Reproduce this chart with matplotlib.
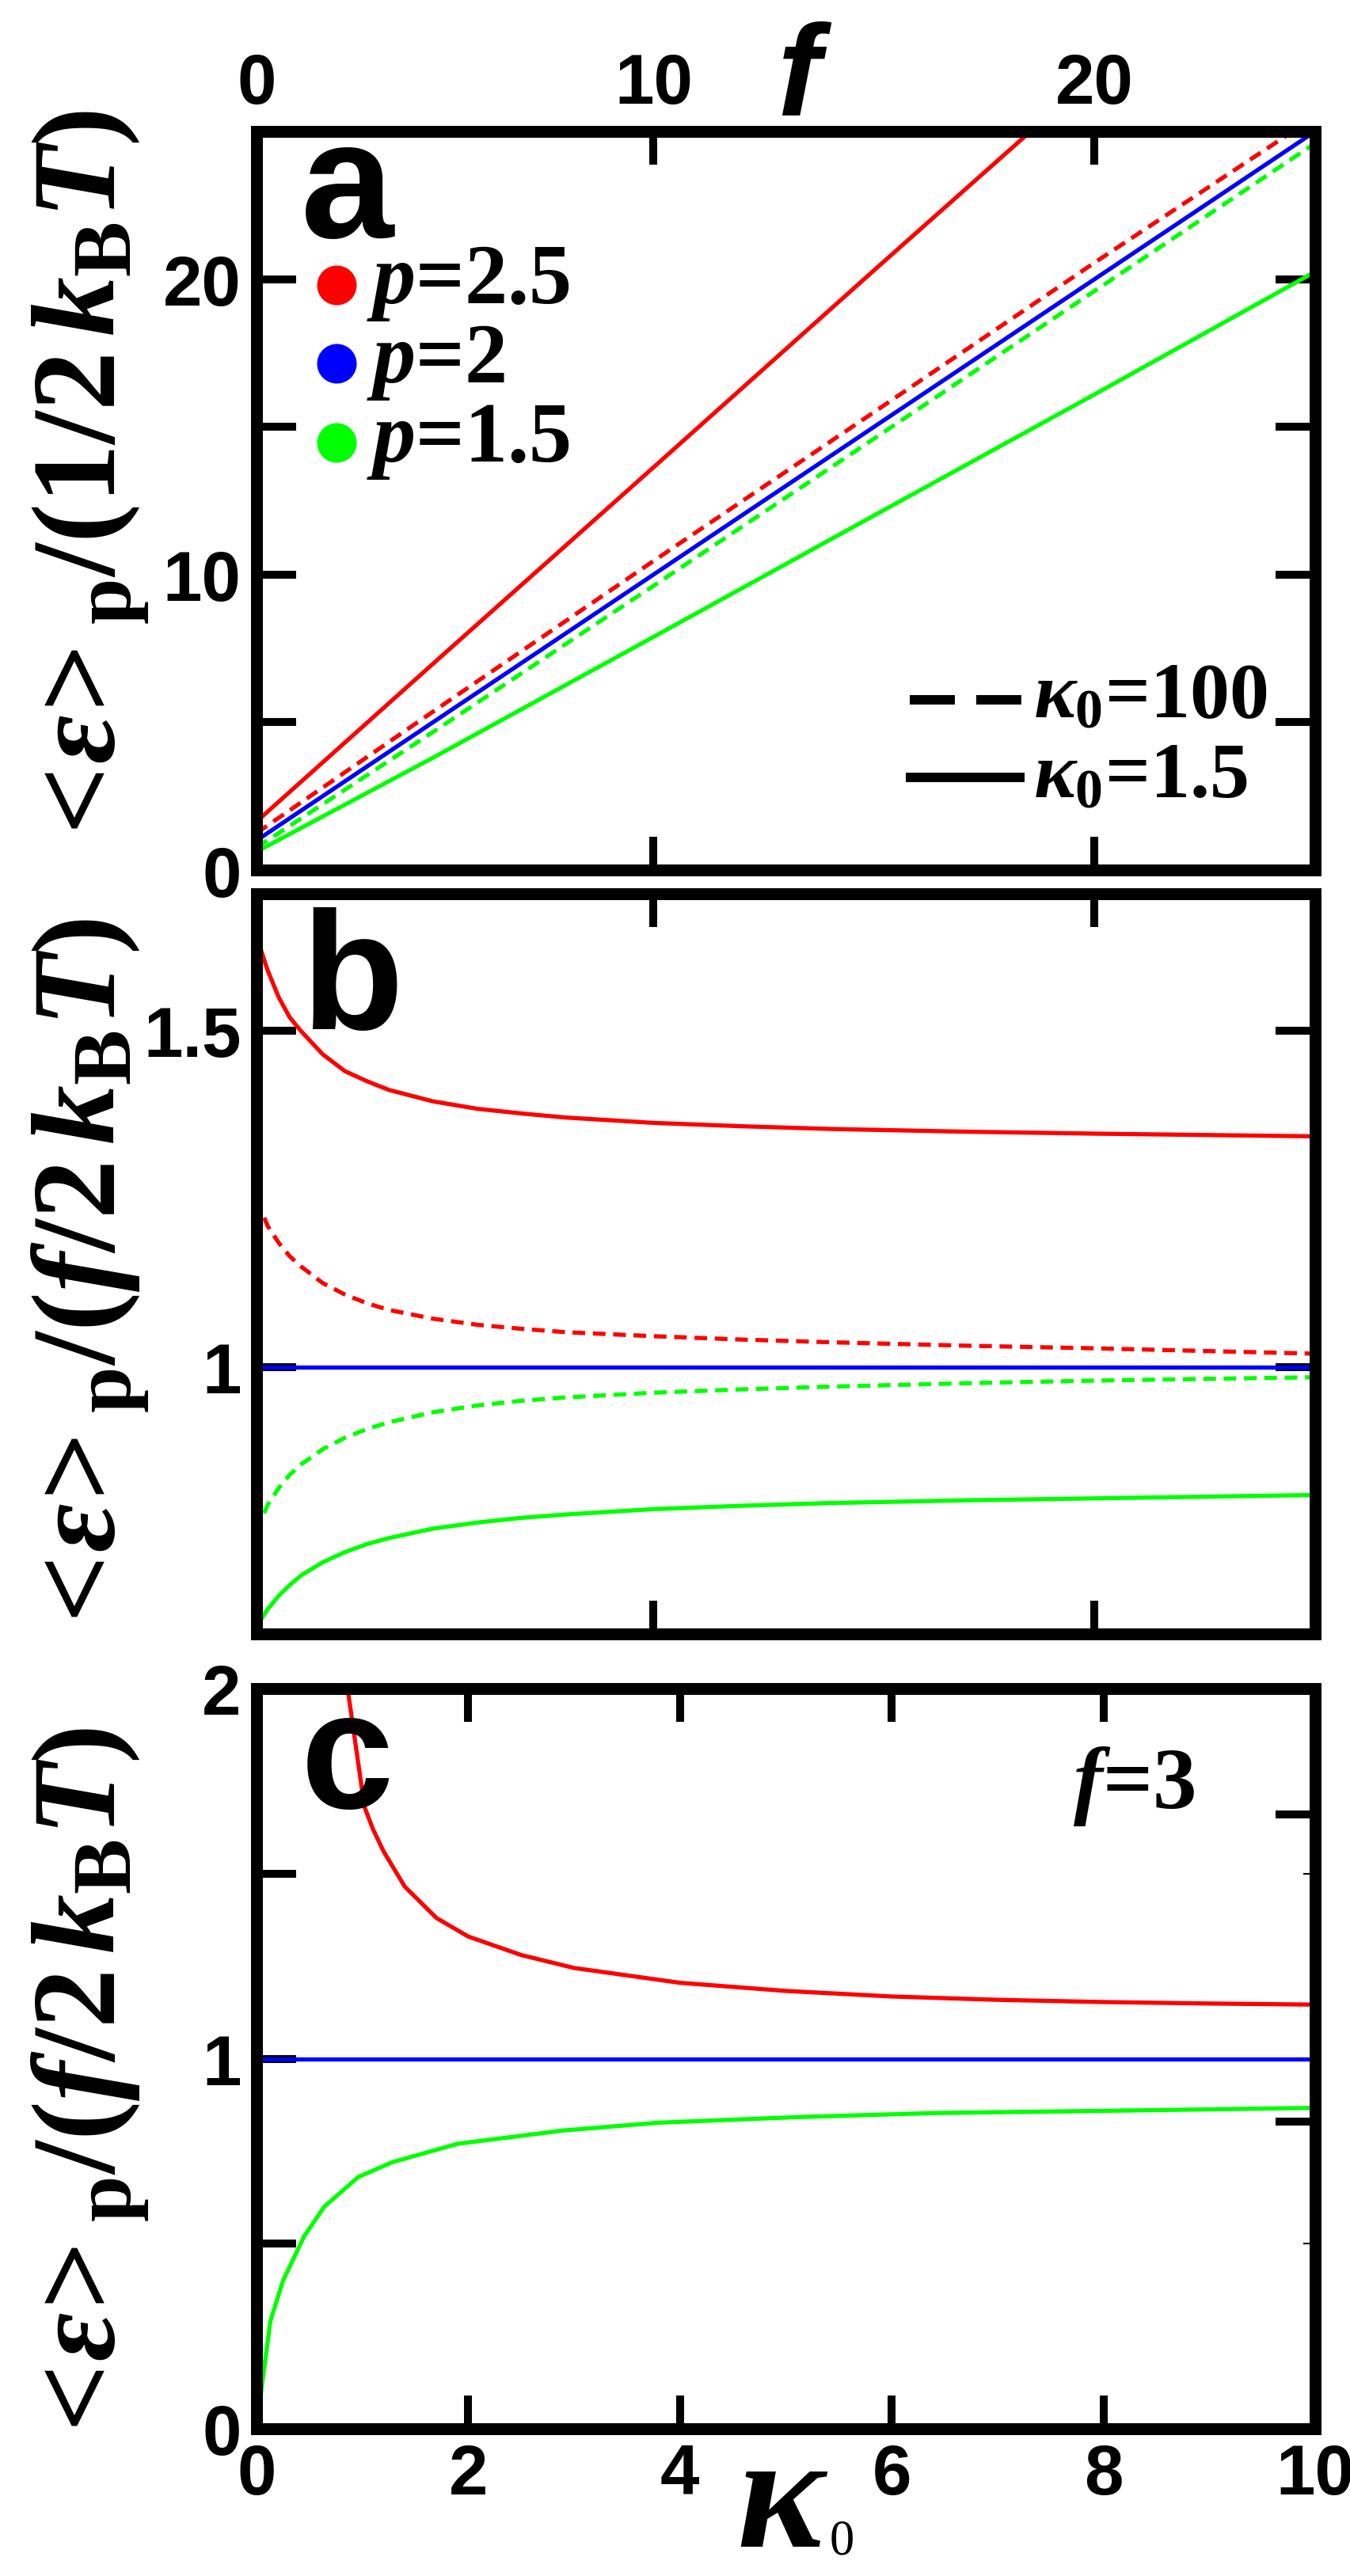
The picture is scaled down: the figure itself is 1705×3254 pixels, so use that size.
import matplotlib
matplotlib.use('Agg')
import matplotlib.pyplot as plt
from matplotlib.lines import Line2D

# ---------------- data ----------------
# panel a : <eps>_p/(1/2 kBT) versus f
a_f = [1, 5, 10, 15, 20, 25]
a_f_red_solid = [1, 5, 10, 15, 19]
a_red_solid = [1.64, 6.98, 13.63, 20.3, 25.6]
a_red_dash = [1.25, 5.36, 10.46, 15.5, 20.56, 25.5]
a_blue = [1, 5, 10, 15, 20, 25]
a_green_dash = [0.76, 4.67, 9.62, 14.6, 19.6, 24.6]
a_green_solid = [0.62, 3.8, 7.89, 12.0, 16.1, 20.25]

# panel b : <eps>_p/(f/2 kBT) versus f
b_f = [1, 1.25, 1.5, 1.75, 2, 2.5, 3, 3.5, 4, 5, 6, 7, 8, 10, 12, 14, 17, 20, 25]
b_red_solid = [1.64, 1.59, 1.55, 1.52, 1.50, 1.465, 1.44, 1.425, 1.412, 1.395, 1.384,
               1.377, 1.371, 1.363, 1.358, 1.354, 1.35, 1.347, 1.343]
b_red_dash = [1.25, 1.21, 1.185, 1.165, 1.15, 1.125, 1.108, 1.095, 1.085, 1.072, 1.063,
              1.057, 1.052, 1.046, 1.041, 1.037, 1.032, 1.028, 1.02]
b_green_dash = [0.755, 0.795, 0.82, 0.84, 0.855, 0.878, 0.895, 0.908, 0.918, 0.933, 0.943,
                0.95, 0.955, 0.962, 0.967, 0.971, 0.976, 0.98, 0.985]
b_green_solid = [0.615, 0.64, 0.66, 0.676, 0.69, 0.71, 0.725, 0.737, 0.746, 0.76, 0.769,
                 0.776, 0.781, 0.789, 0.794, 0.798, 0.802, 0.805, 0.81]
b_blue_f = [1, 25]
b_blue = [1, 1]

# panel c : f = 3, versus kappa0
c_k_red = [0.86, 0.95, 1.02, 1.1, 1.2, 1.4, 1.7, 2.0, 2.5, 3, 4, 5, 6, 7, 8, 9, 10]
c_red = [2.0, 1.82, 1.68, 1.62, 1.56, 1.465, 1.38, 1.33, 1.28, 1.245, 1.205, 1.183,
         1.168, 1.159, 1.153, 1.149, 1.146]
c_k_green = [0, 0.03, 0.13, 0.25, 0.45, 0.64, 0.96, 1.28, 1.9, 2.9, 3.8, 5.1, 6.4, 8, 10]
c_green = [0, 0.07, 0.29, 0.40, 0.52, 0.60, 0.68, 0.72, 0.77, 0.806, 0.827, 0.842,
           0.853, 0.859, 0.867]
c_k_blue = [0, 10]
c_blue = [1, 1]

a_yticks = [0, 5, 10, 15, 20, 25]
a_yticklabels = ['0', '', '10', '', '20', '']
a_xticks = [1, 10, 20]
a_xticklabels = ['0', '10', '20']
b_yticks = [1, 1.5]
b_yticklabels = ['1', '1.5']
c_xticks = [0, 2, 4, 6, 8, 10]
c_xticklabels = ['0', '2', '4', '6', '8', '10']
c_yticks = [0, 0.5, 1, 1.5, 2]
c_yticklabels = ['0', '', '1', '', '2']

RED, BLUE, GREEN = '#FF0000', '#0000FF', '#00FF00'

# ---------------- style ----------------
plt.rcParams['font.family'] = ['Liberation Sans', 'DejaVu Sans']
plt.rcParams['font.weight'] = 'bold'
plt.rcParams['mathtext.fontset'] = 'custom'
plt.rcParams['mathtext.rm'] = 'Liberation Serif:bold'
plt.rcParams['mathtext.it'] = 'Liberation Serif:italic:bold'
plt.rcParams['mathtext.bf'] = 'Liberation Serif:bold'
plt.rcParams['lines.scale_dashes'] = False

W, H, DPI = 1706, 3255, 100
fig = plt.figure(figsize=(W / DPI, H / DPI), dpi=DPI)


def fx(x):
    return x / W


def fy(y):
    return 1 - y / H


def px_axes(top, bottom, left=324, right=1661):
    return fig.add_axes([left / W, 1 - bottom / H, (right - left) / W, (bottom - top) / H])


axA = px_axes(167, 1100)
axB = px_axes(1130, 2065)
axC = px_axes(2134, 3069)

SPW = 10.8
LW = 3.8
DASH = (11.5, 7.0)
TICKFS = 64


def style(ax, right=True):
    for s in ax.spines.values():
        s.set_linewidth(SPW)
        s.set_capstyle('projecting')
    ax.tick_params(which='major', direction='in', width=7.2, top=True, right=right,
                   labelsize=TICKFS)
    ax.tick_params(axis='y', length=36, pad=14)
    ax.tick_params(axis='x', length=30, pad=12)


# panel a
style(axA)
axA.plot(a_f_red_solid, a_red_solid, color=RED, lw=LW)
axA.plot(a_f, a_red_dash, color=RED, lw=LW, dashes=DASH)
axA.plot(a_f, a_green_dash, color=GREEN, lw=LW, dashes=DASH)
axA.plot(a_f, a_green_solid, color=GREEN, lw=LW)
axA.plot(a_f, a_blue, color=BLUE, lw=LW)
axA.set_xlim(1, 25)
axA.set_ylim(0, 25)
axA.set_xticks(a_xticks)
axA.set_xticklabels(a_xticklabels)
axA.tick_params(axis='x', labeltop=True, labelbottom=False)
axA.set_yticks(a_yticks)
axA.set_yticklabels(a_yticklabels)

# panel b
style(axB)
axB.plot(b_f, b_red_solid, color=RED, lw=LW)
axB.plot(b_f, b_red_dash, color=RED, lw=LW, dashes=DASH)
axB.plot(b_f, b_green_dash, color=GREEN, lw=LW, dashes=DASH)
axB.plot(b_f, b_green_solid, color=GREEN, lw=LW)
axB.plot(b_blue_f, b_blue, color=BLUE, lw=LW)
axB.set_xlim(1, 25)
axB.set_ylim(0.6035, 1.7035)
axB.set_xticks([10, 20])
axB.tick_params(axis='x', labelbottom=False)
axB.set_yticks(b_yticks)
axB.set_yticklabels(b_yticklabels)

# panel c
style(axC, right=False)
axC.plot(c_k_red, c_red, color=RED, lw=LW)
axC.plot(c_k_blue, c_blue, color=BLUE, lw=LW)
axC.plot(c_k_green, c_green, color=GREEN, lw=LW)
axC.set_xlim(0, 10)
axC.set_ylim(0, 2)
axC.set_xticks(c_xticks)
axC.set_xticklabels(c_xticklabels)
axC.set_yticks(c_yticks)
axC.set_yticklabels(c_yticklabels)
sec = axC.secondary_yaxis('right')
sec.set_yticks([0.83, 1.66])
sec.set_yticks([0.5, 1.5], minor=True)
sec.tick_params(which='major', direction='in', length=36, width=7.2, labelright=False)
sec.tick_params(which='minor', direction='in', length=11, width=1.5, labelright=False)
sec.spines['right'].set_linewidth(SPW)
sec.spines['right'].set_capstyle('projecting')

# ---------------- texts ----------------
ylab_a = r'${<}\!\varepsilon\!{>}_{\mathrm{p}}/(1/2\,k_{\mathrm{B}}T)$'
ylab_bc = r'${<}\!\varepsilon\!{>}_{\mathrm{p}}/(f/2\,k_{\mathrm{B}}T)$'
for txt, yc in ((ylab_a, 608), (ylab_bc, 1616), (ylab_bc, 2638)):
    fig.text(fx(115), fy(yc), txt, rotation=90, fontsize=108, ha='center', va='center')

for letter, yb in (('a', 300), ('b', 1300), ('c', 2284)):
    fig.text(fx(380), fy(yb), letter, fontsize=152, fontweight='bold',
             family='Liberation Sans', ha='left', va='baseline')

# legend for p
for col, lab, yc, yb in ((RED, '2.5', 361, 383), (BLUE, '2', 460, 483),
                         (GREEN, '1.5', 560, 583)):
    fig.add_artist(Line2D([fx(425)], [fy(yc)], marker='o', ms=35, color=col, lw=0,
                          transform=fig.transFigure))
    fig.text(fx(463), fy(yb), r'$p$=' + lab, fontsize=78, family='Liberation Serif',
             fontweight='bold', ha='left', va='baseline')

# legend for kappa0
fig.add_artist(Line2D([fx(1149), fx(1291)], [fy(885), fy(885)], color='black', lw=8.6,
                      dashes=(41, 19.4), transform=fig.transFigure))
fig.add_artist(Line2D([fx(1150), fx(1288)], [fy(983), fy(983)], color='black', lw=8.6,
                      transform=fig.transFigure))
fig.text(fx(1305), fy(906), r'$\kappa_{0}$=100', fontsize=72, family='Liberation Serif',
         fontweight='bold', ha='left', va='baseline')
fig.text(fx(1305), fy(1007), r'$\kappa_{0}$=1.5', fontsize=72, family='Liberation Serif',
         fontweight='bold', ha='left', va='baseline')

# f=3 in panel c
fig.text(fx(1355), fy(2284), r'$f$=3', fontsize=80, family='Liberation Serif',
         fontweight='bold', ha='left', va='baseline')

# top axis label f
fig.text(fx(1008), fy(145), 'f', fontsize=118, family='Liberation Sans', fontweight='bold',
         style='italic', ha='center', va='baseline')

# bottom axis label kappa0
fig.text(fx(930), fy(3217), 'κ', fontsize=150, family='Liberation Serif', fontweight='bold',
         style='italic', ha='left', va='baseline')
fig.text(fx(1048), fy(3227), '0', fontsize=45, family='Liberation Serif', fontweight='normal',
         ha='left', va='baseline')

fig.savefig('out.png', dpi=DPI)
